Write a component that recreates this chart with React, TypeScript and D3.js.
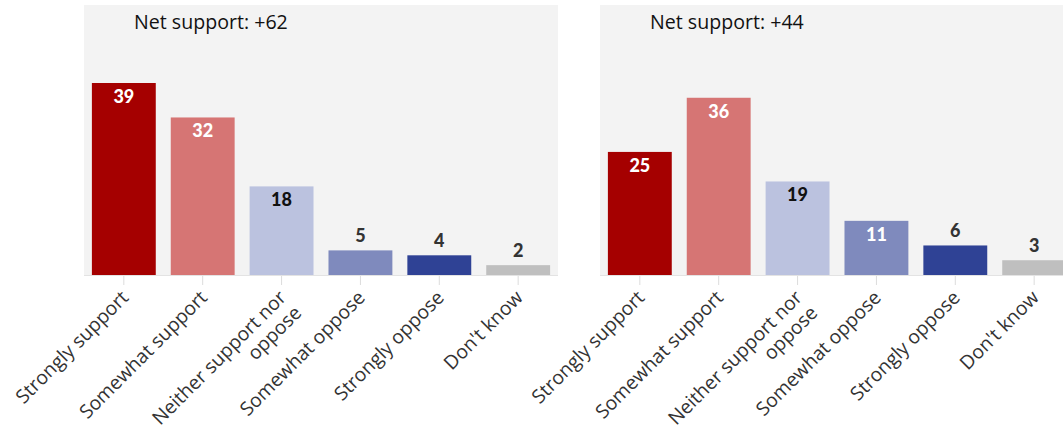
import React from "react";
import * as d3 from "d3";

const categories = [
  "Strongly support",
  "Somewhat support",
  "Neither support nor oppose",
  "Somewhat oppose",
  "Strongly oppose",
  "Don't know",
];
const categoryLines = [
  ["Strongly support"],
  ["Somewhat support"],
  ["Neither support nor", "oppose"],
  ["Somewhat oppose"],
  ["Strongly oppose"],
  ["Don't know"],
];
const panelTitles = ["Net support: +62", "Net support: +44"];
const valuesLeft = [39, 32, 18, 5, 4, 2];
const valuesRight = [25, 36, 19, 11, 6, 3];
const barColors = ["#a50000", "#d67574", "#bbc2df", "#7f8abd", "#2f4295", "#bfbfbf"];

const W = 1063;
const H = 429;
const panelW = 474;
const panelX = [84, 600];
const plotTop = 5;
const baseY = 275;
const FONT = "Lato, 'Noto Sans', sans-serif";
const LABEL_FONT = "'Open Sans', 'Noto Sans', sans-serif";

function Panel({ x0, title, values }: { x0: number; title: string; values: number[] }) {
  const x = d3
    .scaleBand<string>()
    .domain(categories)
    .range([0, panelW])
    .paddingInner(0.19)
    .paddingOuter(0.1);
  const y = d3.scaleLinear().domain([0, 39]).range([baseY, 83]);
  const bw = x.bandwidth();
  return (
    <g transform={`translate(${x0},0)`}>
      <rect x={0} y={plotTop} width={panelW} height={baseY - plotTop} fill="#f3f3f3" />
      <line x1={0} x2={panelW} y1={baseY + 0.5} y2={baseY + 0.5} stroke="#e3e3e3" strokeWidth={1} />
      <text x={50} y={29} fontFamily={LABEL_FONT} fontSize={19.6} fill="#111">
        {title}
      </text>
      {categories.map((c, i) => {
        const v = values[i];
        const bx = x(c)!;
        const top = y(v);
        const inside = v >= 10;
        const fill = inside ? (i === 2 ? "#111" : "#fff") : "#333";
        const cx = bx + bw / 2;
        return (
          <g key={c}>
            <rect x={bx} y={top} width={bw} height={baseY - top} fill={barColors[i]} />
            <text
              x={cx}
              y={inside ? top + 20 : top - 8}
              textAnchor="middle"
              fontFamily={FONT}
              fontWeight={900}
              fontSize={18}
              fill={fill}
            >
              {v}
            </text>
            <line x1={cx} x2={cx} y1={baseY + 1} y2={baseY + 10} stroke="#dcdcdc" strokeWidth={1} />
            <text
              transform={`translate(${cx + 1},${baseY + 19}) rotate(-45)`}
              textAnchor="end"
              fontFamily={LABEL_FONT}
              fontSize={19.3}
              fill="#333"
            >
              {categoryLines[i].map((ln, k) => (
                <tspan key={k} x={0} dy={k === 0 ? "0.35em" : "1.12em"}>
                  {ln}
                </tspan>
              ))}
            </text>
          </g>
        );
      })}
    </g>
  );
}

export default function App() {
  return (
    <svg
      width={W}
      height={H}
      style={{ position: "absolute", left: 0, top: 0, background: "#fff" }}
    >
      <Panel x0={panelX[0]} title={panelTitles[0]} values={valuesLeft} />
      <Panel x0={panelX[1]} title={panelTitles[1]} values={valuesRight} />
    </svg>
  );
}
